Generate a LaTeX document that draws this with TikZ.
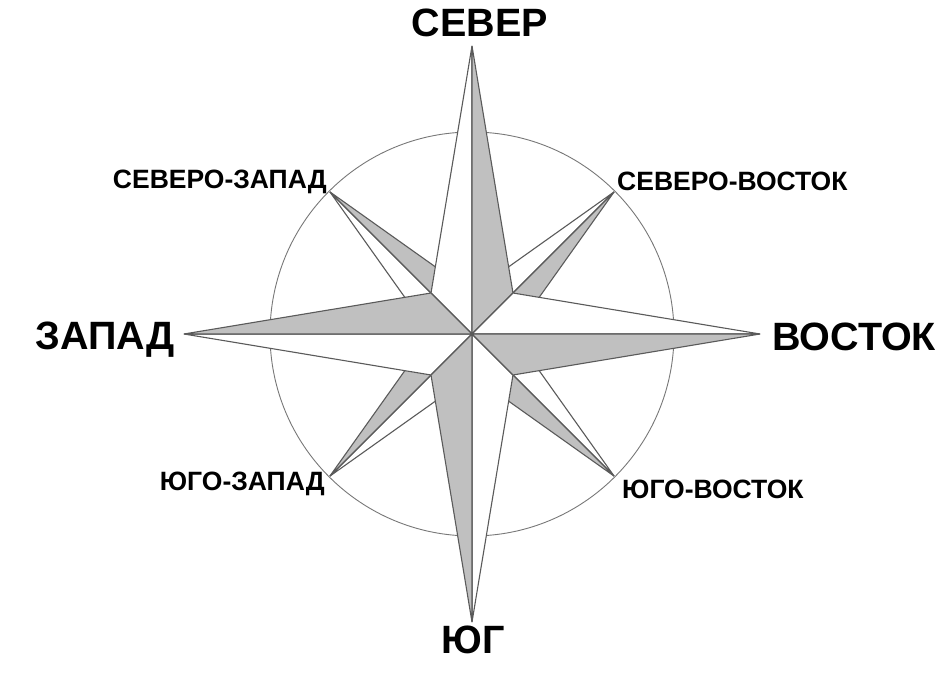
\documentclass[tikz,border=0pt]{standalone}
\usepackage{fontspec}
\setmainfont{Liberation Sans}
\usepackage{tikz}

\definecolor{roseline}{RGB}{90,90,90}
\definecolor{rosefill}{RGB}{192,192,192}
\definecolor{ringline}{RGB}{120,120,120}

\begin{document}
\begin{tikzpicture}[x=1pt,y=1pt]
      \tikzstyle{half}=[draw=roseline,line width=1.1pt,line join=miter]
      \tikzstyle{greyhalf}=[half,fill=rosefill]
      \tikzstyle{whitehalf}=[half,fill=white]
      \tikzstyle{bigname}=[inner sep=0pt,font=\fontsize{39.5}{41}\selectfont\bfseries]
      \tikzstyle{smallname}=[inner sep=0pt,font=\fontsize{26.5}{29}\selectfont\bfseries]
      \useasboundingbox (-472,-352) rectangle (474,334);
      \coordinate (c) at (0,0);
      \draw[ringline,line width=0.9pt] (c) circle (202);
      % diagonal points
      \foreach \a in {-45,45,135,225} {
        \begin{scope}[rotate=\a]
          \fill[white] (c) -- (-34,0) -- (0,201) -- (34,0) -- cycle;
          \draw[whitehalf] (c) -- (-34,0) -- (0,201) -- cycle;
          \draw[greyhalf] (c) -- (34,0) -- (0,201) -- cycle;
        \end{scope}
      }
      % main points
      \foreach \a in {0,90,180,270} {
        \begin{scope}[rotate=\a]
          \draw[whitehalf] (c) -- (-41,41) -- (0,288) -- cycle;
          \draw[greyhalf] (c) -- (41,41) -- (0,288) -- cycle;
        \end{scope}
      }
      \node[bigname,anchor=base] (north) at (8,297) {СЕВЕР};
      \node[bigname,anchor=base] (south) at (1,-319) {ЮГ};
      \node[bigname,anchor=base west] (east) at (300,-16) {ВОСТОК};
      \node[bigname,anchor=base east] (west) at (-297,-15) {ЗАПАД};
      \node[smallname,anchor=base east] (northwest) at (-145,146) {СЕВЕРО-ЗАПАД};
      \node[smallname,anchor=base west] (northeast) at (145,143) {СЕВЕРО-ВОСТОК};
      \node[smallname,anchor=base east] (southwest) at (-147,-156) {ЮГО-ЗАПАД};
      \node[smallname,anchor=base west] (southeast) at (150,-164) {ЮГО-ВОСТОК};
\end{tikzpicture}
\end{document}
